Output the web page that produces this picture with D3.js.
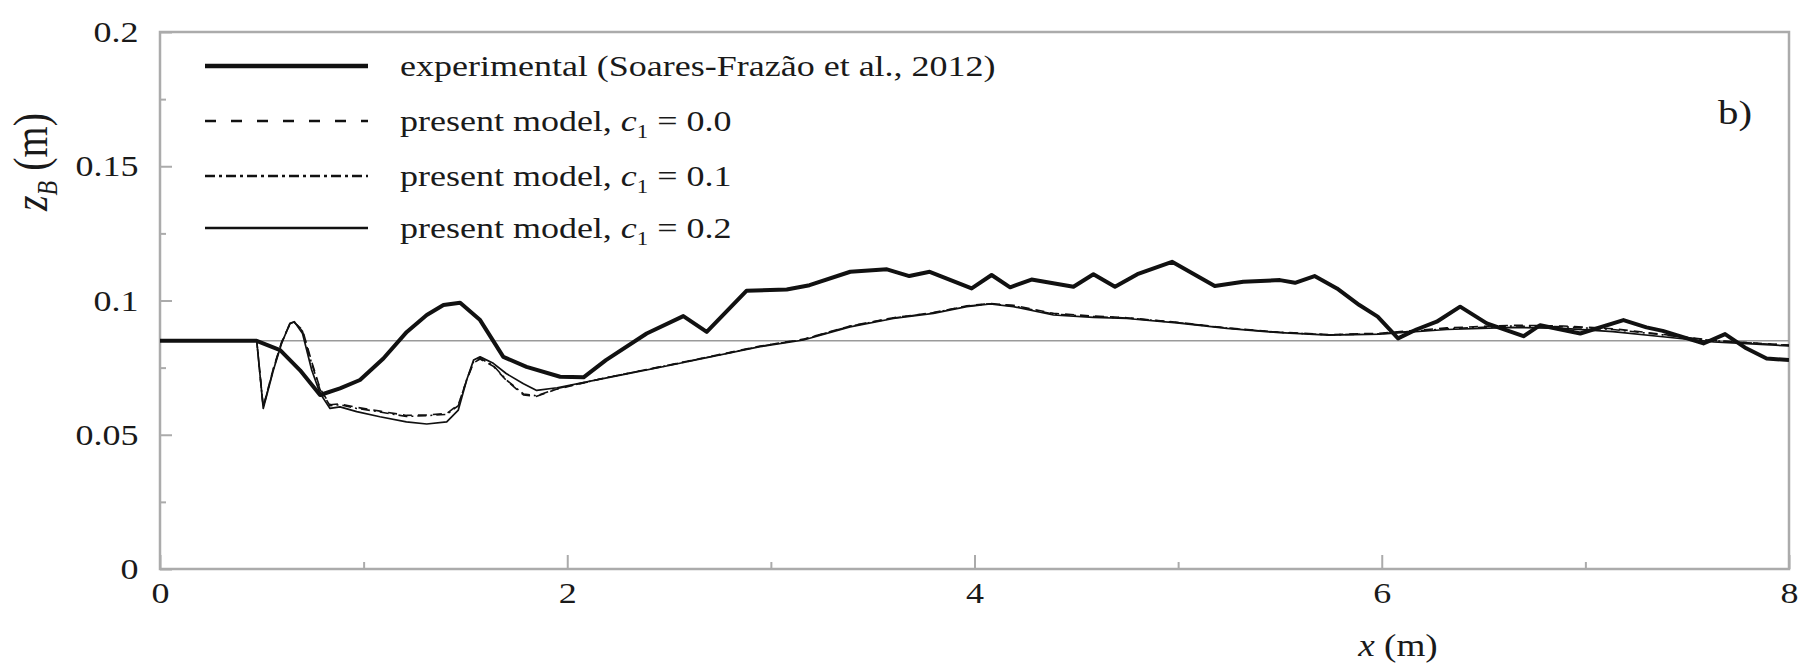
<!DOCTYPE html>
<html>
<head>
<meta charset="utf-8">
<script src="https://cdn.jsdelivr.net/npm/d3@7"></script>
<style>
  html, body { margin: 0; padding: 0; background: #fff; }
  svg { display: block; }
  text { font-family: "Liberation Serif", "Times New Roman", serif; fill: #1a1a1a; }
</style>
</head>
<body>
<svg id="chart" width="1804" height="667"></svg>
<script>
// Bed elevation profiles z_B along the channel, x in metres
const expX = [0, 0.475, 0.59, 0.688, 0.786, 0.884, 0.982, 1.097, 1.212, 1.31, 1.392, 1.474, 1.572, 1.686, 1.80, 1.965, 2.08, 2.19, 2.39, 2.57, 2.685, 2.88, 3.078, 3.19, 3.39, 3.57, 3.68, 3.78, 3.986, 4.084, 4.175, 4.28, 4.486, 4.584, 4.69, 4.80, 4.97, 5.18, 5.32, 5.50, 5.574, 5.67, 5.78, 5.89, 5.98, 6.08, 6.17, 6.27, 6.385, 6.516, 6.696, 6.778, 6.975, 7.187, 7.30, 7.38, 7.58, 7.686, 7.79, 7.89, 8.0];
const expZ = [0.085, 0.085, 0.0815, 0.074, 0.0648, 0.0673, 0.0704, 0.0784, 0.0883, 0.0946, 0.0983, 0.0992, 0.0927, 0.079, 0.0753, 0.0716, 0.0714, 0.0778, 0.0877, 0.0942, 0.0883, 0.1036, 0.1041, 0.1057, 0.1107, 0.1116, 0.1091, 0.1107, 0.1045, 0.1095, 0.1049, 0.1078, 0.1051, 0.1098, 0.1051, 0.1098, 0.1144, 0.1054, 0.107, 0.1076, 0.1066, 0.1091, 0.1045, 0.0983, 0.094, 0.0859, 0.0892, 0.0921, 0.0977, 0.0915, 0.0867, 0.0908, 0.0877, 0.0927, 0.09, 0.0887, 0.084, 0.0875, 0.0822, 0.0784, 0.0778];

const modelX = [0, 0.475, 0.507, 0.557, 0.597, 0.638, 0.66, 0.70, 0.745, 0.786, 0.835, 0.884, 0.966, 1.08, 1.21, 1.31, 1.408, 1.465, 1.506, 1.54, 1.572, 1.637, 1.70, 1.785, 1.85, 1.95, 2.2, 2.5, 2.947, 3.16, 3.389, 3.602, 3.798, 3.962, 4.077, 4.191, 4.388, 4.584, 4.748, 4.994, 5.24, 5.50, 5.74, 5.99, 6.32, 6.647, 6.89, 7.135, 7.38, 7.63, 8.0];
const modelZc00 = [0.085, 0.085, 0.0604, 0.0748, 0.0845, 0.0912, 0.0918, 0.089, 0.0772, 0.0672, 0.0612, 0.0615, 0.0602, 0.0588, 0.0572, 0.0574, 0.0579, 0.0612, 0.0703, 0.0768, 0.0782, 0.0755, 0.0703, 0.0648, 0.0643, 0.067, 0.0714, 0.076, 0.083, 0.0856, 0.0905, 0.0936, 0.0955, 0.098, 0.0989, 0.0982, 0.0952, 0.0942, 0.0936, 0.0919, 0.0898, 0.0882, 0.0873, 0.0878, 0.0898, 0.0908, 0.0905, 0.0895, 0.0874, 0.0851, 0.0834];
const modelZc01 = [0.085, 0.085, 0.0602, 0.0745, 0.0842, 0.0913, 0.092, 0.0885, 0.0765, 0.0668, 0.0608, 0.0612, 0.0598, 0.0585, 0.0568, 0.0571, 0.0576, 0.0608, 0.0705, 0.0772, 0.0785, 0.0758, 0.0705, 0.0652, 0.0645, 0.0672, 0.0714, 0.0759, 0.0829, 0.0855, 0.0904, 0.0935, 0.0954, 0.0979, 0.0988, 0.098, 0.095, 0.094, 0.0935, 0.0918, 0.0897, 0.0881, 0.0872, 0.0876, 0.0895, 0.0905, 0.0902, 0.0892, 0.0872, 0.085, 0.0833];
const modelZc02 = [0.085, 0.085, 0.0598, 0.0741, 0.084, 0.0915, 0.0921, 0.0877, 0.0741, 0.0654, 0.0598, 0.0604, 0.0586, 0.0567, 0.0548, 0.054, 0.0548, 0.0592, 0.0704, 0.0778, 0.079, 0.0766, 0.0728, 0.069, 0.0665, 0.0675, 0.0713, 0.0758, 0.0828, 0.0853, 0.0902, 0.0933, 0.0952, 0.0977, 0.0987, 0.0977, 0.0946, 0.0937, 0.0933, 0.0917, 0.0896, 0.088, 0.0871, 0.0875, 0.0892, 0.09, 0.0896, 0.0884, 0.0865, 0.0846, 0.0831];

// initial bed level
const initialBed = 0.085;

const xMajorTicks = [0, 2, 4, 6, 8];
const xMinorTicks = [1, 3, 5, 7];
const yMajorTicks = [0, 0.05, 0.1, 0.15, 0.2];
const yMajorLabels = ["0", "0.05", "0.1", "0.15", "0.2"];
const yMinorTicks = [0.025, 0.075, 0.125, 0.175];

const legendLabels = [
  { text: "experimental (Soares-Frazão et al., 2012)" },
  { text: "present model, ", c: "0.0" },
  { text: "present model, ", c: "0.1" },
  { text: "present model, ", c: "0.2" }
];

const SX = 1.2;           // horizontal stretch of the lettering
const plot = { left: 160, right: 1789, top: 32, bottom: 569 };

const svg = d3.select("#chart");
const x = d3.scaleLinear().domain([0, 8]).range([plot.left, plot.right]);
const y = d3.scaleLinear().domain([0, 0.2]).range([plot.bottom, plot.top]);

const axisColor = "#ababab";

// frame
svg.append("rect")
  .attr("x", plot.left).attr("y", plot.top)
  .attr("width", plot.right - plot.left).attr("height", plot.bottom - plot.top)
  .attr("fill", "none").attr("stroke", axisColor).attr("stroke-width", 2.5);

// initial bed reference line
svg.append("line")
  .attr("x1", x(0)).attr("x2", x(8))
  .attr("y1", y(initialBed)).attr("y2", y(initialBed))
  .attr("stroke", "#9a9a9a").attr("stroke-width", 1.6);

// axes
function styleAxis(g) {
  g.select(".domain").remove();
  g.selectAll(".tick line").attr("stroke", axisColor).attr("stroke-width", 2);
  g.selectAll(".tick text")
    .attr("font-size", 30)
    .attr("fill", "#1a1a1a")
    .style("font-family", "'Liberation Serif', 'Times New Roman', serif");
}

const xAxis = svg.append("g")
  .attr("transform", `translate(0,${plot.bottom})`)
  .call(d3.axisBottom(x).tickValues(xMajorTicks).tickFormat(d3.format("d"))
    .tickSizeInner(-14).tickSizeOuter(0).tickPadding(13))
  .call(styleAxis);
xAxis.selectAll(".tick text").attr("transform", `scale(${SX},1)`);

svg.append("g")
  .attr("transform", `translate(0,${plot.bottom})`)
  .call(d3.axisBottom(x).tickValues(xMinorTicks).tickFormat("")
    .tickSizeInner(-7).tickSizeOuter(0))
  .call(styleAxis);

const yAxis = svg.append("g")
  .attr("transform", `translate(${plot.left},0)`)
  .call(d3.axisLeft(y).tickValues(yMajorTicks)
    .tickFormat((d, i) => yMajorLabels[i])
    .tickSizeInner(-12).tickSizeOuter(0).tickPadding(18))
  .call(styleAxis);
yAxis.selectAll(".tick text").attr("transform", `scale(${SX},1)`);

svg.append("g")
  .attr("transform", `translate(${plot.left},0)`)
  .call(d3.axisLeft(y).tickValues(yMinorTicks).tickFormat("")
    .tickSizeInner(-6).tickSizeOuter(0))
  .call(styleAxis);

// series
svg.append("defs").append("clipPath").attr("id", "plotClip")
  .append("rect")
  .attr("x", plot.left).attr("y", plot.top)
  .attr("width", plot.right - plot.left).attr("height", plot.bottom - plot.top);

const line = d3.line().x(d => x(d[0])).y(d => y(d[1]));
const series = [
  { xs: modelX, zs: modelZc00, width: 1.6, dash: "9,6" },
  { xs: modelX, zs: modelZc01, width: 1.6, dash: "9,4,2,4" },
  { xs: modelX, zs: modelZc02, width: 1.7, dash: null },
  { xs: expX, zs: expZ, width: 4, dash: null }
];
const linesG = svg.append("g").attr("clip-path", "url(#plotClip)");
series.forEach(s => {
  linesG.append("path")
    .datum(s.xs.map((v, i) => [v, s.zs[i]]))
    .attr("d", line)
    .attr("fill", "none")
    .attr("stroke", "#111")
    .attr("stroke-width", s.width)
    .attr("stroke-linejoin", "round")
    .attr("stroke-dasharray", s.dash);
});

// legend
const legendRows = [66, 121, 176, 228];
const legendStyles = [
  { width: 4.5, dash: null },
  { width: 2.6, dash: "11,15" },
  { width: 2.6, dash: "10,4,3,4" },
  { width: 2.4, dash: null }
];
legendLabels.forEach((lab, i) => {
  const ly = legendRows[i];
  svg.append("line")
    .attr("x1", 205).attr("x2", 368).attr("y1", ly).attr("y2", ly)
    .attr("stroke", "#111")
    .attr("stroke-width", legendStyles[i].width)
    .attr("stroke-dasharray", legendStyles[i].dash);
  const t = svg.append("text")
    .attr("transform", `translate(400,${ly + 10}) scale(${SX},1)`)
    .attr("font-size", 30);
  t.append("tspan").text(lab.text);
  if (lab.c) {
    t.append("tspan").attr("font-style", "italic").text("c");
    t.append("tspan").attr("font-size", 19).attr("dy", 7).text("1");
    t.append("tspan").attr("dy", -7).text(" = " + lab.c);
  }
});

// panel tag
svg.append("text")
  .attr("transform", `translate(1718,124) scale(${SX},1)`)
  .attr("font-size", 34)
  .text("b)");

// x axis title
const xt = svg.append("text")
  .attr("transform", `translate(1398,656) scale(${SX},1)`)
  .attr("text-anchor", "middle")
  .attr("font-size", 31);
xt.append("tspan").attr("font-style", "italic").text("x");
xt.append("tspan").text(" (m)");

// y axis title
const yt = svg.append("text")
  .attr("transform", `translate(47,162) scale(${SX},1) rotate(-90)`)
  .attr("text-anchor", "middle")
  .attr("font-size", 40);
yt.append("tspan").attr("font-style", "italic").text("z");
yt.append("tspan").attr("font-style", "italic").attr("font-size", 24).attr("dy", 8).text("B");
yt.append("tspan").attr("dy", -8).text(" (m)");
</script>
</body>
</html>
